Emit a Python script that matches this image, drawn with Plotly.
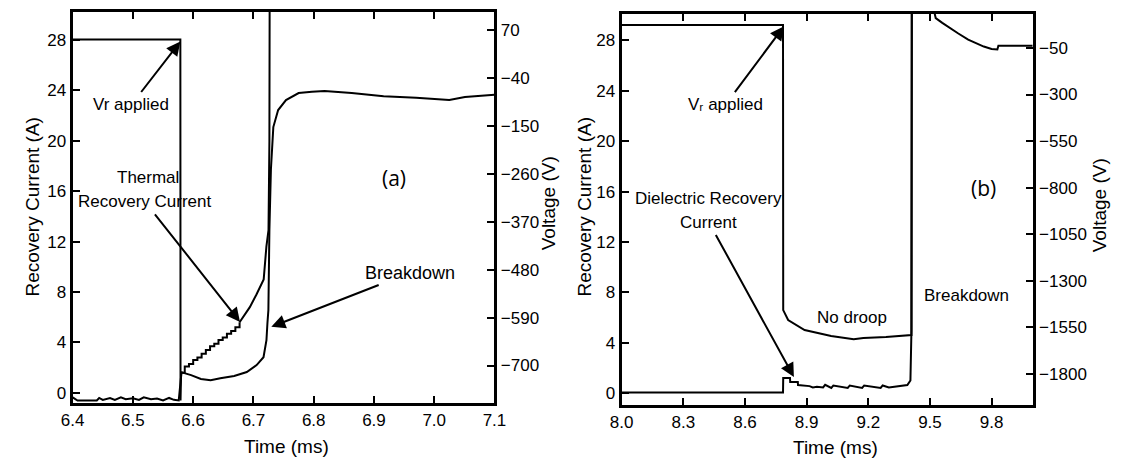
import plotly.graph_objects as go

# ---------------- Panel (a) data ----------------
t_va = [6.400, 6.5787, 6.5790, 6.5800, 6.5868, 6.5965, 6.6128, 6.629, 6.645, 6.668, 6.689,
        6.7053, 6.7167, 6.7216, 6.7232, 6.7248, 6.7265, 6.729, 6.733, 6.741, 6.754, 6.775,
        6.797, 6.818, 6.863, 6.916, 6.970, 7.025, 7.051, 7.079, 7.100]
v_a = [48, 48, -780, -715, -718, -722, -731, -734, -729, -724, -715,
       -699, -681, -642, -603, -573, -389, -250, -153, -114, -91, -75,
       -72, -70, -75, -82, -86, -91, -84, -82, -79]

t_ia_base = [6.400, 6.403, 6.408, 6.420, 6.440, 6.444, 6.450, 6.462, 6.470, 6.480, 6.488,
             6.500, 6.510, 6.518, 6.530, 6.540, 6.550, 6.560, 6.568, 6.576, 6.5805]
i_a_base = [-0.35, -0.45, -0.60, -0.60, -0.60, -0.40, -0.55, -0.40, -0.55, -0.35, -0.50,
            -0.42, -0.55, -0.35, -0.50, -0.45, -0.60, -0.40, -0.55, -0.60, 1.6]

t_ia_stair = [6.5805, 6.586, 6.593, 6.600, 6.607, 6.614, 6.621, 6.628, 6.635, 6.642,
              6.649, 6.656, 6.663, 6.670, 6.677]
i_a_stair = [1.6, 2.1, 2.3, 2.6, 2.8, 3.1, 3.4, 3.7, 3.9, 4.2, 4.4, 4.7, 4.9, 5.2, 5.6]

t_ia_rise = [6.677, 6.685, 6.694, 6.705, 6.710, 6.717, 6.7215, 6.725, 6.7265, 6.727]
i_a_rise = [5.6, 6.2, 6.8, 7.8, 8.3, 9.0, 11.6, 12.9, 20.0, 34.0]

# ---------------- Panel (b) data ----------------
t_vb = [8.000, 8.785, 8.786, 8.810, 8.890, 9.019, 9.129, 9.176, 9.286, 9.400, 9.410,
        9.412, 9.510, 9.522, 9.528, 9.560, 9.605, 9.638, 9.686, 9.714, 9.762, 9.800,
        9.828, 9.833, 9.900, 9.960, 9.990, 10.000]
v_b = [74, 74, -1459, -1512, -1566, -1598, -1615, -1609, -1604, -1593, -1593,
       300, 300, 140, 111, 85, 50, 28, -5, -20, -42, -55,
       -58, -38, -38, -38, -35, -38]

t_ib = [8.000, 8.300, 8.600, 8.785, 8.786, 8.819, 8.820, 8.857, 8.858, 8.880, 8.914,
        8.930, 8.950, 8.980, 8.990, 9.020, 9.030, 9.100, 9.110, 9.170, 9.180, 9.260,
        9.270, 9.300, 9.343, 9.390, 9.405, 9.410, 9.412]
i_b = [0.05, 0.05, 0.05, 0.05, 1.2, 1.2, 0.87, 0.87, 0.63, 0.60, 0.55,
       0.45, 0.50, 0.45, 0.65, 0.40, 0.60, 0.40, 0.60, 0.40, 0.60, 0.40,
       0.60, 0.45, 0.55, 0.63, 1.0, 5.0, 40.0]

ticks_xa = [6.4, 6.5, 6.6, 6.7, 6.8, 6.9, 7.0, 7.1]
ticks_xb = [8.0, 8.3, 8.6, 8.9, 9.2, 9.5, 9.8]
ticks_i = [0, 4, 8, 12, 16, 20, 24, 28]
ticks_va = [70, -40, -150, -260, -370, -480, -590, -700]
ticks_vb = [-50, -300, -550, -800, -1050, -1300, -1550, -1800]

W, H = 1123, 458
FONT = "Liberation Sans, Arial, sans-serif"
LW = 2

def px(x):
    return x / W

def py(y):
    return 1 - y / H

fig = go.Figure()
line = dict(color="black", width=LW)

fig.add_trace(go.Scatter(x=t_va, y=v_a, mode="lines", line=line, xaxis="x", yaxis="y2", name="Voltage (a)"))
fig.add_trace(go.Scatter(x=t_ia_base, y=i_a_base, mode="lines", line=line, xaxis="x", yaxis="y", name="Current (a)"))
fig.add_trace(go.Scatter(x=t_ia_stair, y=i_a_stair, mode="lines", line=dict(color="black", width=LW, shape="hv"),
                         xaxis="x", yaxis="y", name="Current (a) stair"))
fig.add_trace(go.Scatter(x=t_ia_rise, y=i_a_rise, mode="lines", line=line, xaxis="x", yaxis="y", name="Current (a) rise"))
fig.add_trace(go.Scatter(x=t_vb, y=v_b, mode="lines", line=line, xaxis="x2", yaxis="y4", name="Voltage (b)"))
fig.add_trace(go.Scatter(x=t_ib, y=i_b, mode="lines", line=line, xaxis="x2", yaxis="y3", name="Current (b)"))

axcommon = dict(showline=True, linewidth=3, linecolor="black", ticks="inside", ticklen=7,
                tickwidth=2, tickcolor="black", showgrid=False, zeroline=False,
                tickfont=dict(family=FONT, size=17, color="black"))

fig.update_layout(
    width=W, height=H, margin=dict(l=0, r=0, t=0, b=0),
    paper_bgcolor="white", plot_bgcolor="white", showlegend=False,
    xaxis=dict(domain=[px(62), px(493)], range=[6.4, 7.1], tickvals=ticks_xa, tickformat=".1f",
               anchor="y", mirror="ticks", **axcommon),
    yaxis=dict(domain=[py(403), py(12)], range=[-0.8, 30.2], tickvals=ticks_i, anchor="x", **axcommon),
    yaxis2=dict(range=[-786, 111], tickvals=ticks_va, overlaying="y", side="right", anchor="x", **axcommon),
    xaxis2=dict(domain=[px(623), px(1043)], range=[8.0, 10.0], tickvals=ticks_xb, tickformat=".1f",
                anchor="y3", mirror="ticks", **axcommon),
    yaxis3=dict(domain=[py(405), py(14)], range=[-0.95, 30.1], tickvals=ticks_i, anchor="x2", **axcommon),
    yaxis4=dict(range=[-1969, 133], tickvals=ticks_vb, overlaying="y3", side="right", anchor="x2", **axcommon),
)

ann = []
tf = dict(family=FONT, size=19, color="black")
# axis titles
ann.append(dict(text="Recovery Current (A)", x=px(20), y=py(207), textangle=-90, font=tf))
ann.append(dict(text="Voltage (V)", x=px(548), y=py(203), textangle=-90, font=tf))
ann.append(dict(text="Time (ms)", x=px(280), y=py(446), font=tf))
ann.append(dict(text="Recovery Current (A)", x=px(584), y=py(207), textangle=-90, font=tf))
ann.append(dict(text="Voltage (V)", x=px(1111), y=py(205), textangle=-90, font=tf))
ann.append(dict(text="Time (ms)", x=px(841), y=py(447), font=tf))
for a in ann:
    a.update(xref="paper", yref="paper", showarrow=False, xanchor="center", yanchor="middle")

af = dict(family=FONT, size=17, color="black")
arrow_style = dict(showarrow=True, arrowhead=2, arrowsize=1.4, arrowwidth=2, arrowcolor="black",
                   standoff=0, startstandoff=2)

# panel (a) labels (text placed at the arrow tail, arrow pointing to the tip)
ann += [
    dict(text="Vr applied", ax=6.4975, ay=22.86, x=6.5787, y=27.86, xref="x", yref="y",
         axref="x", ayref="y", font=af, **arrow_style),
    dict(text="Thermal", x=6.525, y=17.06, xref="x", yref="y", showarrow=False, font=af),
    dict(text="Recovery Current", ax=6.520, ay=15.16, x=6.6777, y=5.63, xref="x", yref="y",
         axref="x", ayref="y", font=af, **arrow_style),
    dict(text="Breakdown", ax=6.960, ay=9.52, x=6.7297, y=5.24, xref="x", yref="y",
         axref="x", ayref="y", font=dict(family=FONT, size=18, color="black"), **arrow_style),
    dict(text="(a)", x=6.934, y=17.06, xref="x", yref="y", showarrow=False,
         font=dict(family="Open Sans, DejaVu Sans, sans-serif", size=21, color="black")),
]
# panel (b) labels
ann += [
    dict(text="V\u1d63 applied", ax=8.505, ay=22.9, x=8.790, y=29.13, xref="x2", yref="y3",
         axref="x2", ayref="y3", font=af, **arrow_style),
    dict(text="Dielectric Recovery", x=8.424, y=15.48, xref="x2", yref="y3", showarrow=False, font=af),
    dict(text="Current", ax=8.424, ay=13.57, x=8.838, y=1.27, xref="x2", yref="y3",
         axref="x2", ayref="y3", font=af, **arrow_style),
    dict(text="No droop", x=9.119, y=6.03, xref="x2", yref="y3", showarrow=False, font=af),
    dict(text="Breakdown", x=9.676, y=7.78, xref="x2", yref="y3", showarrow=False, font=af),
    dict(text="(b)", x=9.762, y=16.27, xref="x2", yref="y3", showarrow=False,
         font=dict(family="Open Sans, DejaVu Sans, sans-serif", size=21, color="black")),
]

fig.update_layout(annotations=ann)
fig.write_html("out.html")
